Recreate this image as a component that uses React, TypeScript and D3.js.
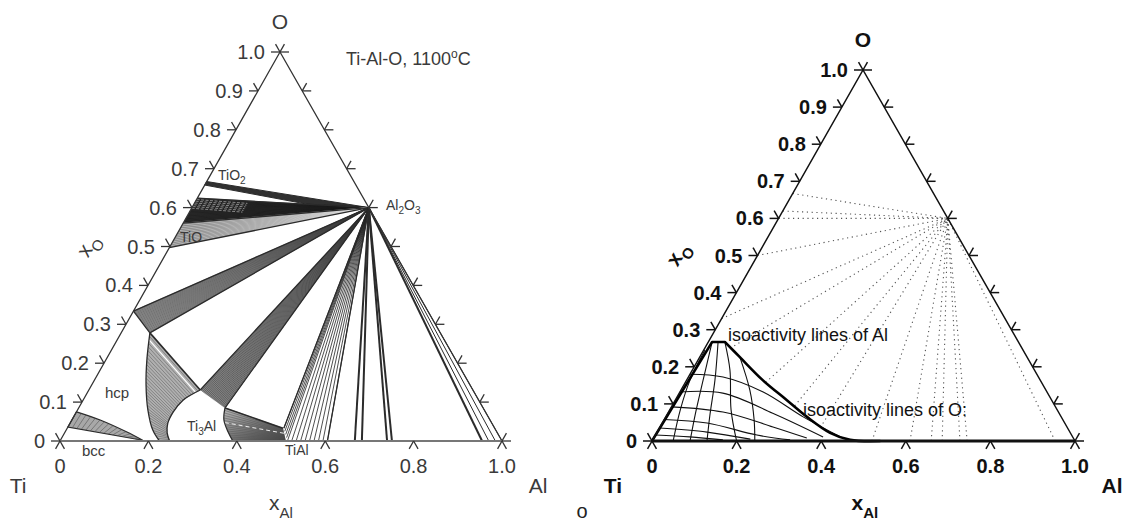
import React, { useEffect, useRef } from "react";
import * as d3 from "d3";

type Pt = [number, number]; // [xAl, xO]
type XY = [number, number];

// ticks shared by both triangles
const sideTicks = [0, 0.1, 0.2, 0.3, 0.4, 0.5, 0.6, 0.7, 0.8, 0.9, 1.0];
const sideLabels = ["0", "0.1", "0.2", "0.3", "0.4", "0.5", "0.6", "0.7", "0.8", "0.9", "1.0"];
const baseTicks = [0, 0.2, 0.4, 0.6, 0.8, 1.0];
const baseLabels = ["0", "0.2", "0.4", "0.6", "0.8", "1.0"];

// left diagram: Ti-Al-O, 1100 C
const al2o3: Pt = [0.4, 0.6];
const tio2Wedge: Pt[] = [[0, 0.667], [0.4, 0.6], [0.255, 0.609], [0, 0.658]];
const magneliSide: Pt[] = [[0, 0.624], [0, 0.56]];
const tioSide: Pt[] = [[0, 0.56], [0, 0.497]];
const hcpOxSide: Pt[] = [[0, 0.334], [0.065, 0.278]];
const ti3alOxSide: Pt[] = [[0.252, 0.131], [0.331, 0.085]];
const tialOxSide: Pt[] = [[0.49, 0.033], [0.515, 0], [0.605, 0]];
const tial2Lines = [0.667, 0.683];
const tial3Lines = [0.74, 0.751];
const alOxLines = [0.955, 0.97, 0.985, 1.0];
const hcpEdge: Pt[] = [[0.065, 0.278], [0.093, 0.208], [0.123, 0.144], [0.159, 0.08], [0.196, 0.028], [0.225, 0]];
const ti3alLeft: Pt[] = [[0.252, 0.131], [0.226, 0.105], [0.219, 0.075], [0.221, 0.046], [0.232, 0.021], [0.248, 0]];
const ti3alRight: Pt[] = [[0.331, 0.085], [0.344, 0.054], [0.369, 0.023], [0.391, 0]];
const tialEdge: Pt[] = [[0.488, 0.033], [0.511, 0]];
const bccTop: Pt[] = [[0, 0.075], [0.064, 0.054], [0.14, 0.023], [0.186, 0.002]];
const bccBottom: Pt[] = [[0, 0.036], [0.186, 0.002]];

// right diagram: computed tie lines and isoactivity lines
const al2o3R: Pt = [0.4, 0.6];
const dottedEnds: Pt[] = [
  [0, 0.667], [0, 0.62], [0, 0.6], [0, 0.5], [0, 0.33], [0.06, 0.25], [0.19, 0.158],
  [0.29, 0.095], [0.38, 0.036], [0.52, 0], [0.61, 0], [0.66, 0], [0.686, 0], [0.728, 0],
  [0.745, 0], [0.953, 0],
];
const liquidCorner: Pt[] = [[0, 0], [0.009, 0.267], [0.039, 0.267]];
const liquidEdge: Pt[] = [
  [0.039, 0.267], [0.095, 0.226], [0.18, 0.164], [0.264, 0.11],
  [0.334, 0.065], [0.41, 0.022], [0.467, 0.003], [0.54, 0],
];
const isoO: Pt[][] = [
  [[0, 0.18], [0.082, 0.1725], [0.197, 0.132], [0.325, 0.065], [0.447, 0.008]],
  [[0, 0.132], [0.103, 0.129], [0.248, 0.075], [0.399, 0.011]],
  [[0, 0.092], [0.129, 0.078], [0.267, 0.038], [0.362, 0.008]],
  [[0, 0.058], [0.106, 0.0485], [0.24, 0.016], [0.325, 0.003]],
  [[0, 0.035], [0.118, 0.024], [0.23, 0.005]],
  [[0, 0.016], [0.084, 0.011], [0.166, 0.003]],
];
const isoAl: Pt[][] = [
  [[0.003, 0.245], [0.008, 0.164], [0.025, 0.084], [0.05, 0]],
  [[0.009, 0.267], [0.039, 0.164], [0.067, 0.07], [0.09, 0]],
  [[0.023, 0.267], [0.067, 0.164], [0.102, 0.07], [0.13, 0]],
  [[0.039, 0.267], [0.089, 0.191], [0.145, 0.084], [0.2, 0]],
  [[0.095, 0.226], [0.163, 0.137], [0.213, 0.057], [0.243, 0]],
];

const FONT = "'Liberation Sans', Arial, Helvetica, sans-serif";

function ternary(ti: XY, al: XY, o: XY) {
  const sx = d3.scaleLinear().domain([0, 1]).range([0, al[0] - ti[0]]);
  const sy = d3.scaleLinear().domain([0, 1]).range([ti[1], o[1]]);
  const shear = d3.scaleLinear().domain([0, 1]).range([ti[0], o[0]]);
  return (p: Pt): XY => [shear(p[1]) + sx(p[0]), sy(p[1])];
}

// point at fraction f of the length of a polyline
function along(poly: Pt[], f: number): Pt {
  const segs = d3.pairs(poly).map(([a, b]) => Math.hypot(b[0] - a[0], b[1] - a[1]));
  let d = f * d3.sum(segs);
  for (let i = 0; i < segs.length; i++) {
    if (d <= segs[i] || i === segs.length - 1) {
      const t = segs[i] ? Math.min(1, d / segs[i]) : 0;
      const a = poly[i], b = poly[i + 1];
      return [a[0] + (b[0] - a[0]) * t, a[1] + (b[1] - a[1]) * t];
    }
    d -= segs[i];
  }
  return poly[poly.length - 1];
}

function drawFrame(g: any, proj: (p: Pt) => XY, o: any) {
  const unit = (a: XY, b: XY): XY => {
    const dx = b[0] - a[0], dy = b[1] - a[1], l = Math.hypot(dx, dy);
    return [dx / l, dy / l];
  };
  const T = proj([0, 0]), A = proj([1, 0]), O = proj([0, 1]);
  const L = 9;
  const upLeft = unit(A, O), upRight = unit(T, O), downLeft = unit(O, T), downRight = unit(O, A);
  const seg = (p: XY, d: XY) =>
    g.append("line").attr("x1", p[0]).attr("y1", p[1])
      .attr("x2", p[0] + d[0] * L).attr("y2", p[1] + d[1] * L)
      .attr("stroke", o.color).attr("stroke-width", o.width);

  g.append("path").attr("d", d3.line()([T, O, A])).attr("fill", "none")
    .attr("stroke", o.color).attr("stroke-width", o.width);
  g.append("line").attr("x1", T[0]).attr("y1", T[1]).attr("x2", A[0]).attr("y2", A[1])
    .attr("stroke", o.baseColor).attr("stroke-width", o.baseWidth);

  sideTicks.forEach((t, i) => {
    const p = proj([0, t]);
    seg(p, [-1, 0]);
    seg(p, upLeft);
    g.append("text").attr("x", p[0] - 15).attr("y", p[1] + 7).attr("text-anchor", "end")
      .attr("font-size", 20).attr("font-family", FONT).attr("font-weight", o.weight)
      .attr("fill", o.text).text(sideLabels[i]);
    const q = proj([1 - t, t]);
    seg(q, [1, 0]);
    seg(q, upRight);
  });
  baseTicks.forEach((t, i) => {
    const p = proj([t, 0]);
    seg(p, downLeft);
    seg(p, downRight);
    g.append("text").attr("x", p[0]).attr("y", p[1] + 32).attr("text-anchor", "middle")
      .attr("font-size", 20).attr("font-family", FONT).attr("font-weight", o.weight)
      .attr("fill", o.text).text(baseLabels[i]);
  });

  const label = (x: number, y: number, s: string, size = 21) =>
    g.append("text").attr("x", x).attr("y", y).attr("font-size", size).attr("font-family", FONT)
      .attr("font-weight", o.weight).attr("fill", o.text).attr("text-anchor", "middle").text(s);
  label(O[0], O[1] - 23, "O");
  label(T[0] - o.tiDx, T[1] + 52, "Ti");
  label(A[0] + o.alDx, A[1] + 52, "Al");

  const xal = g.append("text").attr("x", (T[0] + A[0]) / 2 + o.xalDx).attr("y", T[1] + 69)
    .attr("font-size", 21).attr("font-family", FONT).attr("font-weight", o.weight).attr("fill", o.text);
  xal.append("tspan").text("x");
  xal.append("tspan").attr("dy", 8).attr("font-size", 15).text("Al");

  const pO = proj([0, 0.5]);
  const xo = g.append("text")
    .attr("transform", `translate(${pO[0] - o.xoDx},${pO[1] + 12}) rotate(-60)`)
    .attr("font-size", 21).attr("font-family", FONT).attr("font-weight", o.weight).attr("fill", o.text);
  xo.append("tspan").text("x");
  xo.append("tspan").attr("dy", 7).attr("font-size", 15).text("O");
}

function drawLeft(g: any, defs: any) {
  const proj = ternary([60, 441], [502, 441], [280, 52]);
  const line = d3.line<Pt>().x((p) => proj(p)[0]).y((p) => proj(p)[1]);
  const curve = d3.line<Pt>().x((p) => proj(p)[0]).y((p) => proj(p)[1]).curve(d3.curveCatmullRom);
  const ink = "#2b2b2b";

  const grad = defs.append("linearGradient").attr("id", "tialGrad")
    .attr("x1", "0").attr("y1", "0").attr("x2", "1").attr("y2", "1");
  grad.append("stop").attr("offset", "0%").attr("stop-color", "#b8b8b8");
  grad.append("stop").attr("offset", "100%").attr("stop-color", "#3a3a3a");

  const fan = (side: Pt[], n: number, fill: string, stroke: string, sw: number) => {
    g.append("path").attr("d", line([...side, al2o3]) + "Z").attr("fill", fill).attr("stroke", "none");
    d3.range(n).forEach((k) => {
      g.append("path").attr("d", line([along(side, k / (n - 1)), al2o3]))
        .attr("stroke", stroke).attr("stroke-width", sw).attr("fill", "none");
    });
    [side[0], side[side.length - 1]].forEach((p) =>
      g.append("path").attr("d", line([p, al2o3])).attr("stroke", ink).attr("stroke-width", 1.3));
  };

  // oxide side
  g.append("path").attr("d", line(tio2Wedge) + "Z").attr("fill", "#303030").attr("stroke", ink).attr("stroke-width", 1);
  fan(magneliSide, 18, "#2e2e2e", "#1a1a1a", 0.6);
  d3.range(6).forEach((k) => {
    const p = along(magneliSide, 0.05 + k * 0.07);
    g.append("path").attr("d", line([p, [p[0] + 0.12, p[1] - 0.01]]))
      .attr("stroke", "#a0a0a0").attr("stroke-width", 0.8).attr("stroke-dasharray", "3,1.5");
  });
  fan(tioSide, 14, "#7e7e7e", "#dcdcdc", 0.6);
  fan(hcpOxSide, 24, "#a6a6a6", "#3d3d3d", 0.5);
  fan(ti3alOxSide, 22, "#8c8c8c", "#333", 0.5);
  fan(tialOxSide, 14, "#ffffff", "#222", 0.8);

  tial2Lines.concat(tial3Lines).forEach((a) =>
    g.append("path").attr("d", line([[a, 0], al2o3])).attr("stroke", ink).attr("stroke-width", 2));
  alOxLines.forEach((a, i) =>
    g.append("path").attr("d", line([[a, 0], al2o3])).attr("stroke", ink).attr("stroke-width", i === 0 ? 2 : 1));

  // hcp + Ti3Al
  const hcpRegion = [...hcpEdge, ...ti3alLeft.slice().reverse()];
  g.append("path").attr("d", line(hcpRegion) + "Z").attr("fill", "#b0b0b0");
  d3.range(34).forEach((k) => {
    const f = k / 33;
    g.append("path").attr("d", line([along(hcpEdge, f), along(ti3alLeft, f)]))
      .attr("stroke", k === 2 ? "#fff" : "#555").attr("stroke-width", k === 2 ? 1.2 : 0.5);
  });
  g.append("path").attr("d", curve(hcpEdge)).attr("fill", "none").attr("stroke", ink).attr("stroke-width", 1.3);
  g.append("path").attr("d", curve(ti3alLeft)).attr("fill", "none").attr("stroke", ink).attr("stroke-width", 1.3);
  g.append("path").attr("d", line([hcpEdge[0], ti3alLeft[0]])).attr("stroke", ink).attr("stroke-width", 1.6);
  g.append("path").attr("d", line(hcpOxSide)).attr("stroke", ink).attr("stroke-width", 1.3);

  // Ti3Al + TiAl
  const tialRegion: Pt[] = [...ti3alRight, ...tialEdge.slice().reverse()];
  g.append("path").attr("d", line(tialRegion) + "Z").attr("fill", "url(#tialGrad)");
  d3.range(16).forEach((k) => {
    const f = k / 15;
    g.append("path").attr("d", line([along(ti3alRight, f), along(tialEdge, f)]))
      .attr("stroke", "#555").attr("stroke-width", 0.5);
  });
  g.append("path").attr("d", line([along(ti3alRight, 0.4), along(tialEdge, 0.4)]))
    .attr("stroke", "#eee").attr("stroke-width", 1).attr("stroke-dasharray", "4,3");
  g.append("path").attr("d", curve(ti3alRight)).attr("fill", "none").attr("stroke", ink).attr("stroke-width", 1.3);
  g.append("path").attr("d", line([ti3alRight[0], tialEdge[0]])).attr("stroke", ink).attr("stroke-width", 1.6);

  // hcp + bcc
  g.append("path").attr("d", curve(bccTop) + "L" + line(bccBottom.slice().reverse())!.slice(1) + "Z")
    .attr("fill", "#a8a8a8").attr("stroke", ink).attr("stroke-width", 1.2);
  d3.range(16).forEach((k) => {
    const f = k / 15;
    g.append("path").attr("d", line([along(bccTop, f), along(bccBottom, f * 0.9)]))
      .attr("stroke", "#444").attr("stroke-width", 0.5);
  });

  drawFrame(g, proj, {
    color: "#333", width: 1.3, baseColor: "#777", baseWidth: 2, weight: "normal", text: "#3a3a3a",
    tiDx: 42, alDx: 36, xalDx: -12, xoDx: 82,
  });

  const small = (x: number, y: number, parts: [string, boolean][], size = 14) => {
    const t = g.append("text").attr("x", x).attr("y", y).attr("font-size", size)
      .attr("font-family", FONT).attr("fill", "#3a3a3a");
    let sub = false;
    parts.forEach(([s, isSub]) => {
      const sp = t.append("tspan").text(s);
      if (isSub !== sub) sp.attr("dy", isSub ? 4 : -4);
      if (isSub) sp.attr("font-size", size * 0.72);
      sub = isSub;
    });
  };
  small(218, 180, [["TiO", false], ["2", true]]);
  small(180, 242, [["TiO", false]]);
  small(386, 210, [["Al", false], ["2", true], ["O", false], ["3", true]]);
  small(105, 398, [["hcp", false]], 15);
  small(82, 456, [["bcc", false]], 15);
  small(187, 431, [["Ti", false], ["3", true], ["Al", false]]);
  small(285, 455, [["TiAl", false]]);

  const title = g.append("text").attr("x", 346).attr("y", 65).attr("font-size", 18)
    .attr("font-family", FONT).attr("fill", "#3a3a3a");
  title.append("tspan").text("Ti-Al-O, 1100");
  title.append("tspan").attr("dy", -7).attr("font-size", 12).text("o");
  title.append("tspan").attr("dy", 7).text("C");
}

function drawRight(g: any) {
  const proj = ternary([652, 441], [1075, 441], [863, 70]);
  const line = d3.line<Pt>().x((p) => proj(p)[0]).y((p) => proj(p)[1]);
  const curve = d3.line<Pt>().x((p) => proj(p)[0]).y((p) => proj(p)[1]).curve(d3.curveCatmullRom);

  dottedEnds.forEach((p) =>
    g.append("path").attr("d", line([p, al2o3R])).attr("stroke", "#555")
      .attr("stroke-width", 1.1).attr("stroke-dasharray", "1.2,3.6").attr("fill", "none"));

  isoO.concat(isoAl).forEach((c) =>
    g.append("path").attr("d", curve(c)).attr("fill", "none").attr("stroke", "#111").attr("stroke-width", 1.1));
  g.append("path").attr("d", line(liquidCorner) + curve(liquidEdge)!.replace(/^M/, "L"))
    .attr("fill", "none").attr("stroke", "#000").attr("stroke-width", 2.6).attr("stroke-linejoin", "round");

  drawFrame(g, proj, {
    color: "#111", width: 1.5, baseColor: "#111", baseWidth: 2.8, weight: "bold", text: "#111",
    tiDx: 39, alDx: 37, xalDx: -12, xoDx: 80,
  });

  g.append("text").attr("x", 728).attr("y", 341).attr("font-size", 18).attr("font-family", FONT)
    .attr("fill", "#111").text("isoactivity lines of Al");
  g.append("text").attr("x", 803).attr("y", 416).attr("font-size", 18).attr("font-family", FONT)
    .attr("fill", "#111").text("isoactivity lines of O:");
}

export default function App() {
  const svgRef = useRef<SVGSVGElement>(null);

  useEffect(() => {
    const svg = d3.select(svgRef.current);
    svg.selectAll("*").remove();
    const defs = svg.append("defs");
    drawLeft(svg.append("g"), defs);
    drawRight(svg.append("g"));
    svg.append("text").attr("x", 582).attr("y", 518).attr("text-anchor", "middle")
      .attr("font-size", 20).attr("font-family", FONT).attr("fill", "#222").text("o");
  }, []);

  return (
    <svg
      ref={svgRef}
      width={1123}
      height={521}
      style={{ position: "absolute", left: 0, top: 0, background: "#fff" }}
    />
  );
}
